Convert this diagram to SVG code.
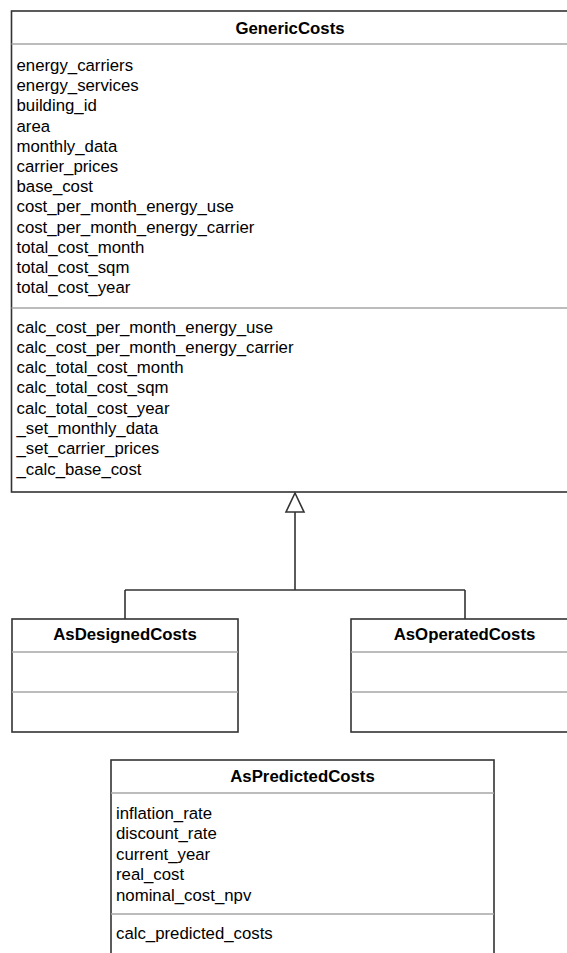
<svg xmlns="http://www.w3.org/2000/svg" width="567" height="953" viewBox="0 0 567 953">
<style>
.box{fill:#ffffff;stroke:#333333;stroke-width:1.6}
.sep{stroke:#a6a6a6;stroke-width:1.6;fill:none}
.title{font-family:"Liberation Sans",Arial,sans-serif;font-size:16.8px;font-weight:bold;fill:#000;text-anchor:middle}
.txt{font-family:"Liberation Sans",Arial,sans-serif;font-size:16.8px;fill:#000}
.conn{stroke:#333333;stroke-width:1.6;fill:none}
</style>
<rect width="567" height="953" fill="#ffffff"/>
<g id="GenericCosts">
<rect class="box" x="11.5" y="11" width="557" height="481"/>
<line class="sep" x1="11.5" y1="44" x2="568.5" y2="44"/>
<line class="sep" x1="11.5" y1="308" x2="568.5" y2="308"/>
<text class="title" x="290" y="33.5">GenericCosts</text>
<text class="txt" x="16.5" y="71">energy_carriers</text>
<text class="txt" x="16.5" y="91.2">energy_services</text>
<text class="txt" x="16.5" y="111.4">building_id</text>
<text class="txt" x="16.5" y="131.6">area</text>
<text class="txt" x="16.5" y="151.8">monthly_data</text>
<text class="txt" x="16.5" y="172">carrier_prices</text>
<text class="txt" x="16.5" y="192.2">base_cost</text>
<text class="txt" x="16.5" y="212.4">cost_per_month_energy_use</text>
<text class="txt" x="16.5" y="232.6">cost_per_month_energy_carrier</text>
<text class="txt" x="16.5" y="252.8">total_cost_month</text>
<text class="txt" x="16.5" y="273">total_cost_sqm</text>
<text class="txt" x="16.5" y="293.2">total_cost_year</text>
<text class="txt" x="16.5" y="332.5">calc_cost_per_month_energy_use</text>
<text class="txt" x="16.5" y="352.8">calc_cost_per_month_energy_carrier</text>
<text class="txt" x="16.5" y="373.1">calc_total_cost_month</text>
<text class="txt" x="16.5" y="393.4">calc_total_cost_sqm</text>
<text class="txt" x="16.5" y="413.7">calc_total_cost_year</text>
<text class="txt" x="16.5" y="434">_set_monthly_data</text>
<text class="txt" x="16.5" y="454.3">_set_carrier_prices</text>
<text class="txt" x="16.5" y="474.6">_calc_base_cost</text>
</g>
<g id="AsDesignedCosts">
<rect class="box" x="12" y="619" width="226" height="113"/>
<line class="sep" x1="12" y1="652" x2="238" y2="652"/>
<line class="sep" x1="12" y1="692" x2="238" y2="692"/>
<text class="title" x="125" y="639.5">AsDesignedCosts</text>
</g>
<g id="AsOperatedCosts">
<rect class="box" x="351" y="619" width="227" height="113"/>
<line class="sep" x1="351" y1="652" x2="578" y2="652"/>
<line class="sep" x1="351" y1="692" x2="578" y2="692"/>
<text class="title" x="464.5" y="639.5">AsOperatedCosts</text>
</g>
<g id="AsPredictedCosts">
<rect class="box" x="111" y="760" width="383" height="200"/>
<line class="sep" x1="111" y1="793" x2="494" y2="793"/>
<line class="sep" x1="111" y1="914" x2="494" y2="914"/>
<text class="title" x="302.5" y="782">AsPredictedCosts</text>
<text class="txt" x="116" y="818.5">inflation_rate</text>
<text class="txt" x="116" y="839">discount_rate</text>
<text class="txt" x="116" y="859.5">current_year</text>
<text class="txt" x="116" y="880">real_cost</text>
<text class="txt" x="116" y="900.5">nominal_cost_npv</text>
<text class="txt" x="116" y="938.5">calc_predicted_costs</text>
</g>
<g id="connectors">
<path class="conn" d="M295 512 V590 M125 590 H465 M125 590 V619 M465 590 V619"/>
<polygon points="295,493 286,512 304,512" fill="#ffffff" stroke="#333333" stroke-width="1.6"/>
</g>
</svg>
